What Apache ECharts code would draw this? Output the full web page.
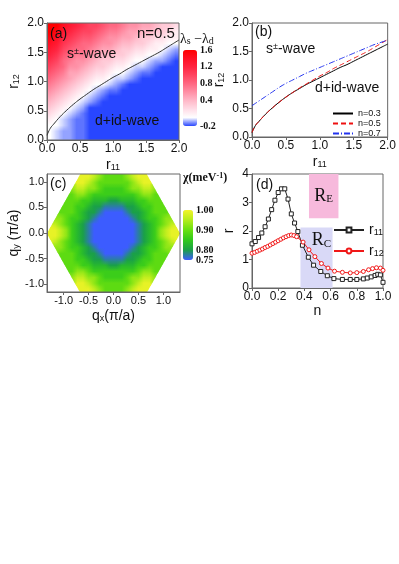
<!DOCTYPE html>
<html lang="en">
<head>
<meta charset="UTF-8">
<title>pairing phase diagram</title>
<script src="https://cdn.jsdelivr.net/npm/echarts@6/dist/echarts.min.js"></script>
<style>
  html, body { margin: 0; padding: 0; background: #fff; }
  #main { width: 399px; height: 564px; }
</style>
</head>
<body>
<div id="main"></div>
<script>
// (a) lambda_s - lambda_d, one string per r11 column (0.05 .. 1.95), read top (r12=1.95) to bottom (0.05)
var levelsA = { d: -0.2, c: -0.15, b: -0.1, a: -0.05, '0': 0, '1': 0.1, '2': 0.2, '3': 0.3, '4': 0.4,
  '5': 0.5, '6': 0.6, '7': 0.7, '8': 0.8, '9': 0.9, A: 1.0, B: 1.1, C: 1.2, D: 1.3, E: 1.4, F: 1.5, G: 1.6 };
var columnsA = [
  'GGFEDCBA987654321000',
  'GFEDCBA98765432100aa',
  'EDCBA98876543210aabb',
  'DCBA98765543210abbbb',
  'CBA98766543210abcccc',
  'BA98876543210abccccc',
  'AA9876543210abdddddd',
  'A9876543210abcdddddd',
  '98765433210bcddddddd',
  '8766543210acdddddddd',
  '876543210abcdddddddd',
  '765433210acddddddddd',
  '65543210abdddddddddd',
  '6543210abcdddddddddd',
  '5433210acddddddddddd',
  '543210abcddddddddddd',
  '432110bcdddddddddddd',
  '33210abddddddddddddd',
  '3210abcddddddddddddd',
  '2110bcdddddddddddddd'
];

// (b) phase boundaries r12(r11)
var r11Grid = [0, 0.05, 0.1, 0.2, 0.3, 0.4, 0.5, 0.6, 0.7, 0.8, 0.9, 1.0, 1.1, 1.2, 1.3, 1.4, 1.5, 1.6, 1.7, 1.8, 1.9, 2.0];
var bound03 = [0.08, 0.2, 0.27, 0.4, 0.51, 0.61, 0.7, 0.78, 0.85, 0.92, 0.98, 1.04, 1.1, 1.16, 1.22, 1.27, 1.33, 1.39, 1.45, 1.51, 1.57, 1.63];
var bound05 = [0.08, 0.2, 0.27, 0.4, 0.51, 0.61, 0.7, 0.78, 0.86, 0.93, 1.0, 1.07, 1.13, 1.2, 1.26, 1.32, 1.38, 1.44, 1.5, 1.57, 1.64, 1.71];
var bound07 = [0.55, 0.59, 0.63, 0.71, 0.79, 0.87, 0.94, 1.0, 1.06, 1.12, 1.17, 1.22, 1.27, 1.32, 1.37, 1.42, 1.47, 1.52, 1.57, 1.62, 1.66, 1.7];
var boundNames = ['n=0.3', 'n=0.5', 'n=0.7'];

// (c) chi(q) over the hexagonal zone, rows top to bottom, '.' = outside
var levelsC = { B: 0.75, b: 0.775, D: 0.8, d: 0.83, g: 0.86, G: 0.89, h: 0.925, y: 0.96, Y: 0.99 };
var rowsC = [
  '......YYyhGGGGhyYY......',
  '.....YYyhGGGGGGhyYY.....',
  '....hyyhhGggggGhhyyh....',
  '....GhhGggggggggGhhG....',
  '...GGGggdddDDdddggGGG...',
  '...GGggdDDbbbbDDdggGG...',
  '..GGGgdDDbBBBBbDDdgGGG..',
  '.hhGggdDbBBBBBBbDdggGhh.',
  '.yhGgdDbBBBBBBBBbDdgGhy.',
  'YYyhgdDbBBBBBBBBbDdghyYY',
  'YYyhgdDbBBBBBBBBbDdghyYY',
  '.yhGgdDbBBBBBBBBbDdgGhy.',
  '.hhGggdDbBBBBBBbDdggGhh.',
  '..GGGgdDDbBBBBbDDdgGGG..',
  '...GGggdDDbbbbDDdggGG...',
  '...GGGggdddDDdddggGGG...',
  '....GhhGggggggggGhhG....',
  '....hyyhhGggggGhhyyh....',
  '.....YYyhGGGGGGhyYY.....',
  '......YYyhGGGGhyYY......'
];

// (d) r11, r12 versus filling n
var nR11 = [0, 0.025, 0.05, 0.075, 0.1, 0.125, 0.15, 0.175, 0.2, 0.225, 0.25, 0.275, 0.3, 0.325, 0.35,
  0.385, 0.43, 0.47, 0.525, 0.575, 0.625, 0.69, 0.75, 0.8, 0.85, 0.88, 0.91, 0.94, 0.96, 0.98, 1.0];
var r11Vals = [1.55, 1.63, 1.77, 1.93, 2.15, 2.42, 2.75, 3.08, 3.35, 3.48, 3.48, 3.12, 2.6, 2.28, 1.98,
  1.5, 1.08, 0.8, 0.58, 0.43, 0.33, 0.3, 0.3, 0.3, 0.32, 0.35, 0.39, 0.44, 0.48, 0.46, 0.2];
var nR12 = [0, 0.02, 0.04, 0.06, 0.08, 0.1, 0.12, 0.14, 0.16, 0.18, 0.2, 0.22, 0.24, 0.26, 0.28, 0.3, 0.32, 0.34,
  0.39, 0.435, 0.48, 0.53, 0.58, 0.63, 0.69, 0.75, 0.8, 0.85, 0.89, 0.92, 0.95, 0.98, 1.0];
var r12Vals = [1.22, 1.25, 1.29, 1.33, 1.37, 1.42, 1.46, 1.51, 1.56, 1.61, 1.66, 1.71, 1.76, 1.8, 1.84, 1.86, 1.84, 1.8,
  1.61, 1.34, 1.1, 0.86, 0.7, 0.59, 0.55, 0.53, 0.54, 0.58, 0.64, 0.68, 0.71, 0.7, 0.62];
// regions: [n from, n to, r from, r to]
var regions = [[0.37, 0.615, 0, 2.12], [0.435, 0.66, 2.45, 4]];
var regionTags = ['C', 'E'];
var regionFills = ['#d9d9f7', '#f7b9dc'];

var colorsA = ['#2846ff', '#ffffff', '#ffdce6', '#ffb8c8', '#ff90a6', '#ff6882', '#ff4460', '#ff2440', '#ff1024', '#ff0000'];
var colorsC = ['#3c5cff', '#1aa048', '#30c81c', '#68e010', '#b4ec1c', '#f4f428'];

var sansFont = '"Liberation Sans", Arial, sans-serif';
var serifFont = '"Liberation Serif", "Times New Roman", serif';

function hexRgb(h) {
  return [parseInt(h.slice(1, 3), 16), parseInt(h.slice(3, 5), 16), parseInt(h.slice(5, 7), 16)];
}
// same ramp as the visualMap bars
function rampRgb(colors, min, max, v) {
  var t = (v - min) / (max - min) * (colors.length - 1);
  t = Math.max(0, Math.min(colors.length - 1, t));
  var i = Math.min(Math.floor(t), colors.length - 2), f = t - i;
  return mix(hexRgb(colors[i]), hexRgb(colors[i + 1]), f);
}
function mix(a, b, f) {
  return [0, 1, 2].map(function (k) { return a[k] + (b[k] - a[k]) * f; });
}
function rgbStr(c) {
  return 'rgb(' + c.map(Math.round).join(',') + ')';
}
function clampIdx(i, n) { return Math.max(0, Math.min(n - 1, i)); }

// (a) thin vertical strips, shaded between neighbouring columns
var stripW = 0.02;
var stripsA = [];
for (var sx = 0; sx < 2 - 1e-9; sx += stripW) stripsA.push([sx, sx + stripW, 0, 2]);

function stripStops(xc) {
  var u = (xc - 0.05) / 0.1;
  var j0 = clampIdx(Math.floor(u), columnsA.length), j1 = clampIdx(j0 + 1, columnsA.length);
  var f = Math.max(0, Math.min(1, u - j0));
  var c0 = columnsA[j0], c1 = columnsA[j1], stops = [];
  for (var i = 0; i < c0.length; i++) {
    var col = mix(rampRgb(colorsA, -0.2, 1.6, levelsA[c0[i]]), rampRgb(colorsA, -0.2, 1.6, levelsA[c1[i]]), f);
    stops.push({ offset: (i + 0.5) / c0.length, color: rgbStr(col) });
  }
  stops.unshift({ offset: 0, color: stops[0].color });
  stops.push({ offset: 1, color: stops[stops.length - 1].color });
  return stops;
}

// (c) thin horizontal bands bounded by the zone edges
var qxMax = 4 / 3, qyMax = 2 / Math.sqrt(3);
var qStepY = 2 * qyMax / rowsC.length;
function halfWidth(y) { return qxMax - Math.abs(y) / Math.sqrt(3); }
var bandH = qStepY / 5;
var bandsC = [];
for (var by = qyMax; by > -qyMax + 1e-9; by -= bandH) {
  var w = Math.max(halfWidth(by), halfWidth(by - bandH));
  bandsC.push([-w, w, by, by - bandH]);
}

function bandStops(yc) {
  var v = (qyMax - yc) / qStepY - 0.5;
  var i0 = clampIdx(Math.floor(v), rowsC.length), i1 = clampIdx(i0 + 1, rowsC.length);
  var f = Math.max(0, Math.min(1, v - i0));
  var r0 = rowsC[i0], r1 = rowsC[i1], stops = [];
  for (var j = 0; j < r0.length; j++) {
    var a = r0[j], b = r1[j];
    if (a === '.' && b === '.') continue;
    var ca = a === '.' ? null : rampRgb(colorsC, 0.75, 1.0, levelsC[a]);
    var cb = b === '.' ? null : rampRgb(colorsC, 0.75, 1.0, levelsC[b]);
    var col = !ca ? cb : (!cb ? ca : mix(ca, cb, f));
    stops.push({ offset: (j + 0.5) / r0.length, color: rgbStr(col) });
  }
  stops.unshift({ offset: 0, color: stops[0].color });
  stops.push({ offset: 1, color: stops[stops.length - 1].color });
  return stops;
}

function pairs(xs, ys) {
  return xs.map(function (x, i) { return [x, ys[i]]; });
}

var subRich = {
  m: { fontSize: 14, lineHeight: 14, verticalAlign: 'top', fontFamily: sansFont, color: '#111' },
  s: { fontSize: 9, lineHeight: 9, padding: [7, 0, 0, 0], verticalAlign: 'bottom', fontFamily: sansFont, color: '#111' }
};

function axis(gi, min, max, interval, digits, name, gap, custom, size) {
  var ax = {
    type: 'value', gridIndex: gi, min: min, max: max,
    splitLine: { show: false },
    axisLine: { show: true, onZero: false, lineStyle: { color: '#666', width: 1 } },
    axisTick: { show: true, length: 3, lineStyle: { color: '#666' } },
    axisLabel: {
      color: '#111', fontSize: size || 12, fontFamily: sansFont, margin: 3,
      formatter: function (v) { return v.toFixed(digits); }
    },
    name: name, nameLocation: 'middle', nameGap: gap,
    nameTextStyle: { rich: subRich }
  };
  if (custom) {
    ax.axisLabel.customValues = custom;
    ax.axisTick.customValues = custom;
  } else {
    ax.interval = interval;
  }
  return ax;
}

function barAxis(gi, min, max, custom, digits) {
  return {
    type: 'value', gridIndex: gi, min: min, max: max, position: 'right',
    splitLine: { show: false }, axisLine: { show: false }, axisTick: { show: false },
    axisLabel: {
      customValues: custom, margin: 2, color: '#111', fontSize: 10, fontWeight: 'bold', fontFamily: serifFont,
      showMinLabel: true, showMaxLabel: true, hideOverlap: false,
      formatter: function (v) { return v === 0 ? '0' : v.toFixed(digits); }
    }
  };
}

function txt(left, top, text, size, family, weight) {
  var fam = family || sansFont, wt = weight || 'normal';
  return {
    type: 'text', left: left, top: top,
    style: {
      text: text, fill: '#111', font: wt + ' ' + size + 'px ' + fam,
      rich: {
        m: { fontSize: size, lineHeight: size, verticalAlign: 'top', fontFamily: fam, fontWeight: wt },
        p: { fontSize: Math.round(size * 0.65), lineHeight: Math.round(size * 0.65), verticalAlign: 'top', fontFamily: fam, fontWeight: wt },
        s: { fontSize: Math.round(size * 0.7), lineHeight: Math.round(size * 0.7), padding: [Math.round(size * 0.45), 0, 0, 0], verticalAlign: 'bottom', fontFamily: fam }
      }
    }
  };
}

var gridBox = { show: true, borderColor: '#666', borderWidth: 1, backgroundColor: 'transparent' };

var chart = echarts.init(document.getElementById('main'));

var option = {
  animation: false,
  textStyle: { fontFamily: sansFont },
  grid: [
    Object.assign({ left: 47, top: 23, width: 132, height: 117 }, gridBox),
    Object.assign({ left: 252, top: 23, width: 136, height: 114 }, gridBox),
    Object.assign({ left: 47, top: 174, width: 133, height: 118 }, gridBox),
    Object.assign({ left: 252, top: 174, width: 131, height: 114 }, gridBox),
    { left: 197, top: 50, width: 1, height: 76 },
    { left: 193, top: 210, width: 1, height: 50 }
  ],
  xAxis: [
    axis(0, 0, 2, 0.5, 1, '{m|r}{s|11}', 12),
    axis(1, 0, 2, 0.5, 1, '{m|r}{s|11}', 12),
    axis(2, -qxMax, qxMax, null, 1, '{m|q}{s|x}{m|(π/a)}', 12, [-1, -0.5, 0, 0.5, 1], 11),
    axis(3, 0, 1, 0.2, 1, '{m|n}', 14),
    { type: 'value', gridIndex: 4, show: false },
    { type: 'value', gridIndex: 5, show: false }
  ],
  yAxis: [
    axis(0, 0, 2, 0.5, 1, '{m|r}{s|12}', 26),
    axis(1, 0, 2, 0.5, 1, '{m|r}{s|12}', 26),
    axis(2, -qyMax, qyMax, null, 1, '{m|q}{s|y}{m| (π/a)}', 26, [-1, -0.5, 0, 0.5, 1], 11),
    axis(3, 0, 4, 1, 0, '{m|r}', 16),
    barAxis(4, -0.2, 1.6, [1.6, 1.2, 0.8, 0.4, 0, -0.2], 1),
    barAxis(5, 0.75, 1.0, [1.0, 0.9, 0.8, 0.75], 2)
  ],
  visualMap: [
    {
      type: 'continuous', seriesIndex: [], min: -0.2, max: 1.6,
      inRange: { color: colorsA }, left: 183, top: 50, itemWidth: 14, itemHeight: 76,
      padding: 0, calculable: false, hoverLink: false
    },
    {
      type: 'continuous', seriesIndex: [], min: 0.75, max: 1.0,
      inRange: { color: colorsC }, left: 183, top: 210, itemWidth: 10, itemHeight: 50,
      padding: 0, calculable: false, hoverLink: false
    }
  ],
  legend: [
    {
      data: boundNames, orient: 'vertical', left: 332, top: 109, padding: 0,
      itemWidth: 20, itemHeight: 8, itemGap: 1, selectedMode: false,
      itemStyle: { opacity: 0 },
      textStyle: { fontSize: 9, color: '#111', fontFamily: sansFont }
    },
    {
      data: ['r11', 'r12'], orient: 'vertical', left: 333, top: 221, padding: 0,
      itemWidth: 30, itemHeight: 6, itemGap: 5, selectedMode: false,
      formatter: function (name) { return '{m|r}{s|' + name.slice(1) + '}'; },
      textStyle: { rich: subRich }
    }
  ],
  series: [
    {
      type: 'custom', xAxisIndex: 0, yAxisIndex: 0, z: -1, silent: true,
      encode: { x: [0, 1], y: [2, 3] }, data: stripsA,
      renderItem: function (params, api) {
        var x0 = api.value(0), x1 = api.value(1);
        var p0 = api.coord([x0, api.value(3)]);
        var p1 = api.coord([x1, api.value(2)]);
        var last = params.dataIndex === stripsA.length - 1;
        return {
          type: 'rect',
          shape: { x: p0[0], y: p0[1], width: p1[0] - p0[0] + (last ? 0 : 1), height: p1[1] - p0[1] },
          style: { fill: { type: 'linear', x: 0, y: 0, x2: 0, y2: 1, colorStops: stripStops((x0 + x1) / 2) } }
        };
      }
    },
    {
      type: 'line', xAxisIndex: 0, yAxisIndex: 0, data: pairs(r11Grid, bound05), smooth: true,
      symbol: 'none', lineStyle: { color: '#333', width: 1 }, silent: true
    },
    {
      name: boundNames[0], type: 'line', xAxisIndex: 1, yAxisIndex: 1, data: pairs(r11Grid, bound03),
      smooth: true, symbol: 'none', color: '#000', lineStyle: { color: '#000', width: 1 }
    },
    {
      name: boundNames[1], type: 'line', xAxisIndex: 1, yAxisIndex: 1, data: pairs(r11Grid, bound05),
      smooth: true, symbol: 'none', color: '#ee1111', lineStyle: { color: '#ee1111', width: 1, type: [5, 3] }
    },
    {
      name: boundNames[2], type: 'line', xAxisIndex: 1, yAxisIndex: 1, data: pairs(r11Grid, bound07),
      smooth: true, symbol: 'none', color: '#2233ee', lineStyle: { color: '#2233ee', width: 1, type: [6, 2, 1, 2] }
    },
    {
      type: 'custom', xAxisIndex: 2, yAxisIndex: 2, z: -1, silent: true,
      encode: { x: [0, 1], y: [2, 3] }, data: bandsC,
      renderItem: function (params, api) {
        var y0 = api.value(2), y1 = api.value(3);
        var left = api.coord([-qxMax, 0])[0], right = api.coord([qxMax, 0])[0];
        var last = params.dataIndex === bandsC.length - 1;
        var pts = [
          api.coord([-halfWidth(y0), y0]), api.coord([halfWidth(y0), y0]),
          api.coord([halfWidth(y1), y1]), api.coord([-halfWidth(y1), y1])
        ];
        if (!last) { pts[2][1] += 1; pts[3][1] += 1; }
        return {
          type: 'polygon', shape: { points: pts },
          style: { fill: { type: 'linear', global: true, x: left, y: 0, x2: right, y2: 0, colorStops: bandStops((y0 + y1) / 2) } }
        };
      }
    },
    {
      type: 'custom', xAxisIndex: 3, yAxisIndex: 3, z: 1, silent: true,
      encode: { x: [0, 1], y: [2, 3] }, data: regions,
      renderItem: function (params, api) {
        var p0 = api.coord([api.value(0), api.value(3)]);
        var p1 = api.coord([api.value(1), api.value(2)]);
        var k = params.dataIndex;
        var cx = (p0[0] + p1[0]) / 2, cy = (p0[1] + p1[1]) / 2;
        if (regionTags[k] === 'C') { cx += 5; cy = p0[1] + 13; }
        return {
          type: 'group', children: [
            { type: 'rect', shape: { x: p0[0], y: p0[1], width: p1[0] - p0[0], height: p1[1] - p0[1] }, style: { fill: regionFills[k] } },
            {
              type: 'text', x: cx, y: cy, z2: 10,
              style: {
                text: '{m|R}{s|' + regionTags[k] + '}', align: 'center', verticalAlign: 'middle', fill: '#111',
                rich: {
                  m: { fontSize: 18, lineHeight: 18, verticalAlign: 'top', fontFamily: serifFont },
                  s: { fontSize: 11, lineHeight: 11, padding: [8, 0, 0, 0], verticalAlign: 'bottom', fontFamily: serifFont }
                }
              }
            }
          ]
        };
      }
    },
    {
      name: 'r11', type: 'line', xAxisIndex: 3, yAxisIndex: 3, z: 3, data: pairs(nR11, r11Vals),
      symbol: 'rect', symbolSize: 4, showAllSymbol: true, color: '#222',
      itemStyle: { color: '#fff', borderColor: '#222', borderWidth: 1 },
      lineStyle: { color: '#222', width: 1 }
    },
    {
      name: 'r12', type: 'line', xAxisIndex: 3, yAxisIndex: 3, z: 3, data: pairs(nR12, r12Vals),
      symbol: 'circle', symbolSize: 4, showAllSymbol: true, color: '#f01818',
      itemStyle: { color: '#fff', borderColor: '#f01818', borderWidth: 1 },
      lineStyle: { color: '#f01818', width: 1 }
    }
  ],
  graphic: [
    txt(50, 27, '(a)', 14),
    txt(137, 26, 'n=0.5', 15),
    txt(67, 47, '{m|s}{p|±}{m|-wave}', 14),
    txt(95, 114, 'd+id-wave', 14),
    txt(180, 30, '{m|λ}{s|s}{m| −λ}{s|d}', 14, serifFont),
    txt(255, 25, '(b)', 14),
    txt(266, 42, '{m|s}{p|±}{m|-wave}', 14),
    txt(315, 81, 'd+id-wave', 14),
    txt(50, 177, '(c)', 14),
    txt(183, 172, '{m|χ(meV}{p|-1}{m|)}', 12, serifFont, 'bold'),
    txt(256, 178, '(d)', 14)
  ]
};

chart.setOption(option);
</script>
</body>
</html>
